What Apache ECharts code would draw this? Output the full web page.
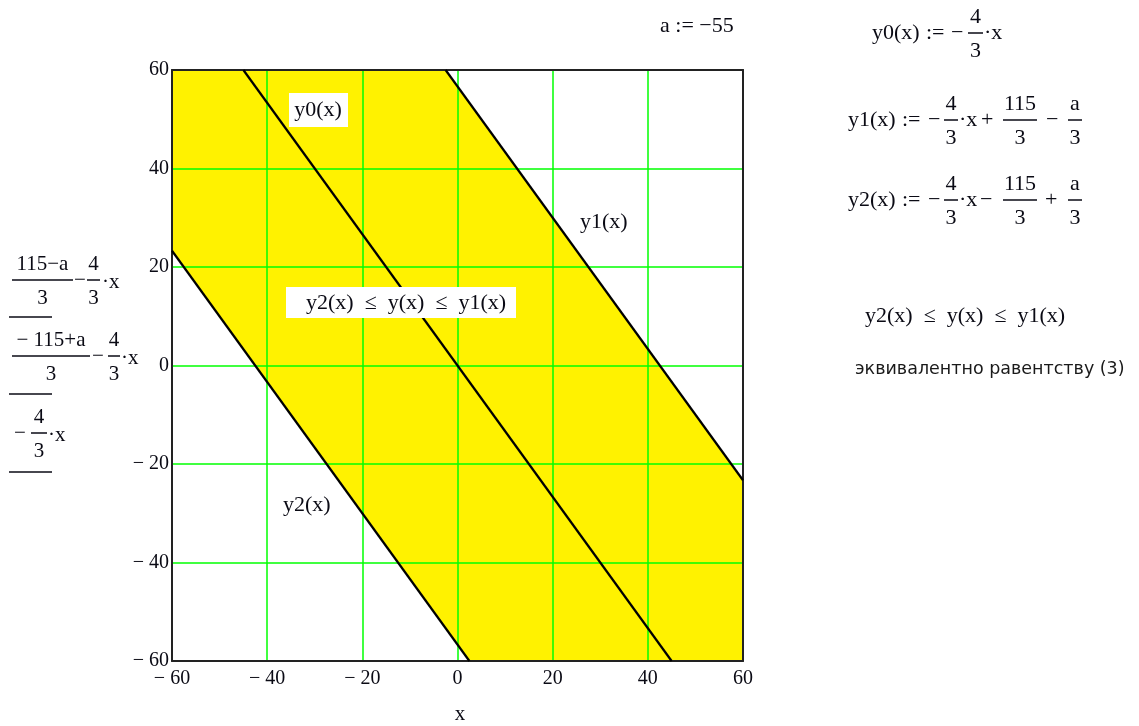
<!DOCTYPE html>
<html>
<head>
<meta charset="utf-8">
<script src="https://cdn.jsdelivr.net/npm/echarts@6/dist/echarts.min.js"></script>
<style>
  html, body { margin: 0; padding: 0; background: #fff; }
  #chart { width: 1139px; height: 726px; }
</style>
</head>
<body>
<div id="chart"></div>
<script>
// a := -55
const y0Line = [[-45, 60], [45, -60]];
const y1Line = [[-2.5, 60], [60, -23.3]];
const y2Line = [[-60, 23.3], [2.5, -60]];
// yellow band y2(x) <= y <= y1(x), clipped to the box
const bandCorners = [[-60, 60], [-2.5, 60], [60, -23.3], [60, -60], [2.5, -60], [-60, 23.3]];
const axisMin = -60;
const axisMax = 60;
const axisStep = 20;

const serif = 'Liberation Serif';
const ink = '#0a0a14';

function t(text, x, y, size, align) {
  return {
    type: 'text', x: x, y: y, z: 100,
    style: { text: text, fontFamily: serif, fontSize: size || 22, fill: ink,
      align: align || 'left', verticalAlign: 'middle' }
  };
}
function bar(x1, x2, y) {
  return { type: 'line', z: 100, shape: { x1: x1, y1: y, x2: x2, y2: y },
    style: { stroke: ink, lineWidth: 1.5 } };
}
function frac(num, den, x1, x2, y, size) {
  const cx = (x1 + x2) / 2;
  return [t(num, cx, y - 16, size, 'center'), bar(x1, x2, y), t(den, cx, y + 18, size, 'center')];
}

const fmt = v => (v < 0 ? '\u2212 ' + Math.abs(v) : String(v));

const labels = [].concat(
  // top right
  t('a := \u221255', 660, 26),
  t('y0(x)', 872, 33), t(':=', 926, 33), t('\u2212', 951, 33),
  frac('4', '3', 968, 983, 33), t('\u00b7x', 984, 33),

  t('y1(x)', 848, 120), t(':=', 902, 120), t('\u2212', 928, 120),
  frac('4', '3', 944, 958, 120), t('\u00b7x', 959, 120), t('+', 981, 120),
  frac('115', '3', 1003, 1037, 120), t('\u2212', 1046, 120),
  frac('a', '3', 1068, 1082, 120),

  t('y2(x)', 848, 200), t(':=', 902, 200), t('\u2212', 928, 200),
  frac('4', '3', 944, 958, 200), t('\u00b7x', 959, 200), t('\u2212', 980, 200),
  frac('115', '3', 1003, 1037, 200), t('+', 1045, 200),
  frac('a', '3', 1068, 1082, 200),

  t('y2(x)  \u2264  y(x)  \u2264  y1(x)', 865, 316),
  {
    type: 'text', x: 855, y: 369, z: 100,
    style: { text: 'эквивалентно равентству (3)', fontFamily: 'DejaVu Sans', fontSize: 17.5,
      fill: '#1a1a1a', verticalAlign: 'middle' }
  },

  // y-axis name, stacked like the source
  frac('115\u2212a', '3', 12, 73, 280, 21), t('\u2212', 80, 280, 21, 'center'),
  frac('4', '3', 87, 100, 280, 21), t('\u00b7x', 102, 282, 21),
  bar(9, 52, 317),
  frac('\u2212 115+a', '3', 12, 90, 356, 21), t('\u2212', 98, 356, 21, 'center'),
  frac('4', '3', 108, 120, 356, 21), t('\u00b7x', 121, 358, 21),
  bar(9, 52, 394),
  t('\u2212', 20, 433, 21, 'center'),
  frac('4', '3', 31, 47, 433, 21), t('\u00b7x', 48, 435, 21),
  bar(9, 52, 472),

  // x-axis name
  t('x', 460, 714, 21, 'center'),

  // trace labels inside the plot
  { type: 'rect', z: 99, shape: { x: 289, y: 93, width: 59, height: 34 }, style: { fill: '#fff' } },
  t('y0(x)', 318, 110, 22, 'center'),
  t('y1(x)', 580, 222),
  { type: 'rect', z: 99, shape: { x: 286, y: 287, width: 230, height: 31 }, style: { fill: '#fff' } },
  t('y2(x)  \u2264  y(x)  \u2264  y1(x)', 306, 303),
  t('y2(x)', 283, 505)
);

const chart = echarts.init(document.getElementById('chart'));

function valueAxis(pos, showLabel, showGrid) {
  return {
    type: 'value', position: pos, min: axisMin, max: axisMax, interval: axisStep, z: 5,
    axisLine: { show: true, onZero: false, lineStyle: { color: '#222', width: 2 } },
    axisTick: { show: false },
    axisLabel: { show: showLabel, formatter: fmt, fontFamily: serif, fontSize: 20, color: ink,
      margin: pos === 'bottom' ? 8 : 3 },
    splitLine: { show: showGrid, lineStyle: { color: '#00ff00', width: 1.5 } }
  };
}

const lineStyle = { color: '#000', width: 2.2 };

chart.setOption({
  animation: false,
  grid: { left: 172, right: 396, top: 70, bottom: 65 },
  xAxis: [valueAxis('bottom', true, true), valueAxis('top', false, false)],
  yAxis: [valueAxis('left', true, true), valueAxis('right', false, false)],
  series: [
    {
      type: 'custom', z: 2, clip: true, data: [0],
      renderItem: function (params, api) {
        return {
          type: 'polygon',
          shape: { points: bandCorners.map(p => api.coord(p)) },
          style: { fill: '#fff200' }
        };
      }
    },
    { name: 'y0', type: 'line', z: 10, showSymbol: false, data: y0Line, lineStyle: lineStyle },
    { name: 'y1', type: 'line', z: 10, showSymbol: false, data: y1Line, lineStyle: lineStyle },
    { name: 'y2', type: 'line', z: 10, showSymbol: false, data: y2Line, lineStyle: lineStyle }
  ],
  graphic: { elements: labels }
});
</script>
</body>
</html>
